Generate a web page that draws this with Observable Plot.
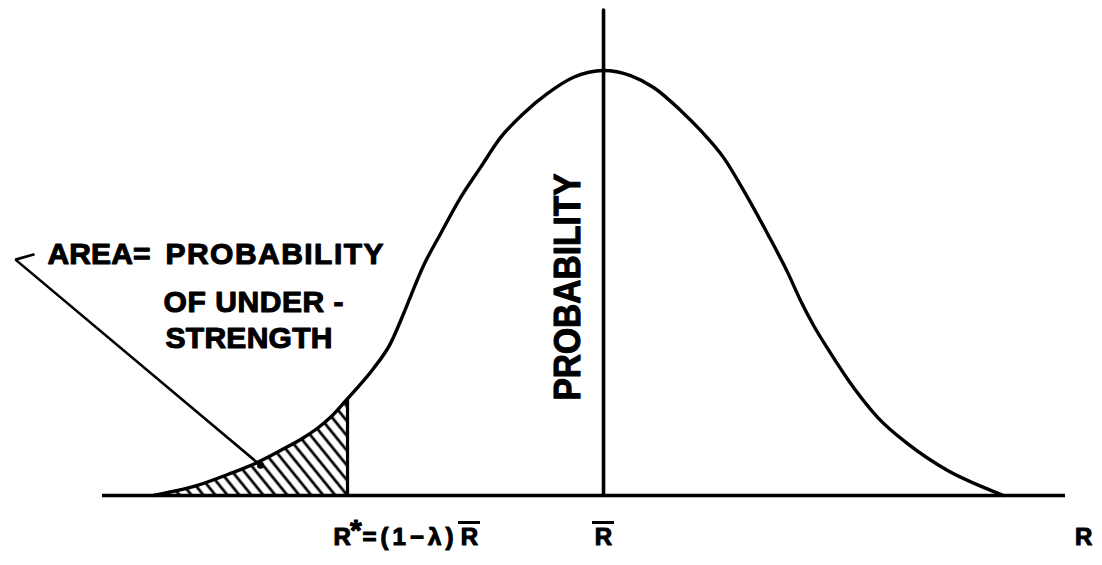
<!DOCTYPE html>
<html>
<head>
<meta charset="utf-8">
<script src="https://cdn.jsdelivr.net/npm/d3@7"></script>
<script src="https://cdn.jsdelivr.net/npm/@observablehq/plot@0.6"></script>
<style>
  html, body { margin: 0; padding: 0; background: #fff; }
  #chart { width: 1102px; height: 565px; }
</style>
</head>
<body>
<div id="chart"></div>
<script>
// Strength R (arbitrary units) and relative probability density of the bell curve
const strengthR = [14.84, 15.63, 18.28, 20.86, 22.97, 24.77, 26.56, 27.73, 28.67, 30.0, 30.78, 32.03, 33.36,
  34.38, 34.92, 35.94, 37.27, 38.83, 40.39, 41.95, 43.75, 45.63, 47.66, 50.0,
  52.11, 53.91, 56.02, 57.58, 59.38, 60.94, 62.81, 64.38, 65.39, 66.41, 67.5, 69.53, 71.41, 73.75, 76.88, 79.69, 81.25];
const density = [0, 0.005, 0.024, 0.052, 0.078, 0.106, 0.136, 0.160, 0.184, 0.228, 0.254, 0.299, 0.358,
  0.428, 0.468, 0.541, 0.616, 0.701, 0.772, 0.842, 0.899, 0.946, 0.984, 1.0,
  0.988, 0.96, 0.906, 0.859, 0.795, 0.718, 0.616, 0.525, 0.459, 0.400, 0.346, 0.254, 0.184, 0.122, 0.059, 0.019, 0];

// Mean strength and the under-strength limit R* = (1 - λ) R̄
const meanR = 50;
const limitR = 30;

// Extent of the R axis line and height of the probability axis
const axisExtentR = [10.86, 86.09];
const axisTopP = 1.141;

// Leader from the label to the shaded area
const leaderR = [5.47, 4.06, 23.2];
const leaderP = [0.567, 0.555, 0.071];

// Label text
const areaLabel = ["AREA=", "PROBABILITY", "OF UNDER -", "STRENGTH"];
const axisLabel = "PROBABILITY";

const curve = strengthR.map((R, i) => ({R, P: density[i]}));
const tail = curve.filter(d => d.R <= limitR);
const limitP = curve.find(d => d.R === limitR).P;
const leader = leaderR.map((R, i) => ({R, P: leaderP[i]}));

// where the R labels sit below the axis
const labelP = -0.0976;
const barP = -0.0635;
const limitBarR = 39.53;     // centre of the barred R in the limit expression
const barHalf = 0.86;

const font = "'Liberation Sans', Arial, sans-serif";
// heavy pen lettering: bold face with a thin outline of the same ink
const bold = {fontWeight: "bold", fill: "#000", stroke: "#000", strokeWidth: 1.1};

const svg = Plot.plot({
  width: 1102,
  height: 565,
  marginTop: 0, marginRight: 0, marginBottom: 0, marginLeft: 0,
  x: {domain: [2.89, 88.98], axis: null},
  y: {domain: [-0.1647, 1.1647], axis: null},
  style: {background: "#fff", fontFamily: font, color: "#000"},
  marks: [
    // shaded tail: probability of under-strength
    Plot.areaY(tail, {x: "R", y: "P", fill: "url(#hatch)", curve: "monotone-x"}),
    // axes drawn as plain lines
    Plot.ruleY([0], {x1: axisExtentR[0], x2: axisExtentR[1], stroke: "#000", strokeWidth: 3.4}),
    Plot.ruleX([meanR], {y1: 0, y2: axisTopP, stroke: "#000", strokeWidth: 3.6, strokeLinecap: "round"}),
    Plot.ruleX([limitR], {y1: 0, y2: limitP, stroke: "#000", strokeWidth: 3.2}),
    // the distribution
    Plot.line(curve, {x: "R", y: "P", stroke: "#000", strokeWidth: 3.4, curve: "monotone-x"}),
    // leader
    Plot.line(leader, {x: "R", y: "P", stroke: "#000", strokeWidth: 2.6, strokeLinejoin: "miter"}),
    Plot.dot([leader[leader.length - 1]], {x: "R", y: "P", r: 3.5, fill: "#000"}),
    // label for the shaded area
    Plot.text([areaLabel[0]], {x: 6.56, y: 0.567, text: d => d, textAnchor: "start", fontSize: 30, ...bold}),
    Plot.text([areaLabel[1]], {x: 15.78, y: 0.567, text: d => d, textAnchor: "start", fontSize: 30, ...bold}),
    Plot.text([areaLabel[2]], {x: 15.63, y: 0.454, text: d => d, textAnchor: "start", fontSize: 30, ...bold}),
    Plot.text([areaLabel[3]], {x: 15.78, y: 0.369, text: d => d, textAnchor: "start", fontSize: 30, ...bold}),
    // vertical axis title
    Plot.text([axisLabel], {x: 47.27, y: 0.4906, text: d => d, rotate: -90, fontSize: 37, ...bold}),
    // R axis labels
    Plot.text(["R"], {x: 28.91, y: labelP, text: d => d, textAnchor: "start", fontSize: 24, ...bold}),
    Plot.text(["*"], {x: 30.2, y: -0.082, text: d => d, textAnchor: "start", fontSize: 30, ...bold}),
    Plot.text(["=(1−λ)"], {x: 31.17, y: labelP, text: d => d, textAnchor: "start", fontSize: 24, ...bold}),
    Plot.text(["R"], {x: limitBarR, y: labelP, text: d => d, fontSize: 24, ...bold}),
    Plot.text(["R"], {x: meanR, y: labelP, text: d => d, fontSize: 24, ...bold}),
    Plot.text(["R"], {x: 87.5, y: labelP, text: d => d, fontSize: 24, ...bold}),
    // bars over R̄
    Plot.ruleY([limitBarR, meanR], {y: barP, x1: d => d - barHalf, x2: d => d + barHalf, stroke: "#000", strokeWidth: 3})
  ]
});

// hatch pattern for the shaded tail
const defs = d3.select(svg).insert("defs", ":first-child");
const pat = defs.append("pattern")
  .attr("id", "hatch")
  .attr("patternUnits", "userSpaceOnUse")
  .attr("width", 9.3).attr("height", 10)
  .attr("patternTransform", "rotate(-39)");
pat.append("line")
  .attr("x1", 4.65).attr("y1", -1).attr("x2", 4.65).attr("y2", 11)
  .attr("stroke", "#000").attr("stroke-width", 2.7);

// stretch the hand-lettered labels to their lettered widths
const widths = [
  ["AREA=", 30, 103], ["PROBABILITY", 30, 218], ["OF UNDER -", 30, 180],
  ["STRENGTH", 30, 167], ["PROBABILITY", 37, 227], ["=(1−λ)", 24, 91]
];
svg.querySelectorAll("text").forEach(t => {
  const g = t.closest("g[font-size]") || t.parentNode;
  const fs = +(t.getAttribute("font-size") || (g && g.getAttribute("font-size")));
  for (const [s, size, w] of widths) {
    if (t.textContent === s && fs === size) {
      t.setAttribute("textLength", w);
      t.setAttribute("lengthAdjust", size === 37 ? "spacingAndGlyphs" : "spacing");
    }
  }
});

document.getElementById("chart").appendChild(svg);
</script>
</body>
</html>
